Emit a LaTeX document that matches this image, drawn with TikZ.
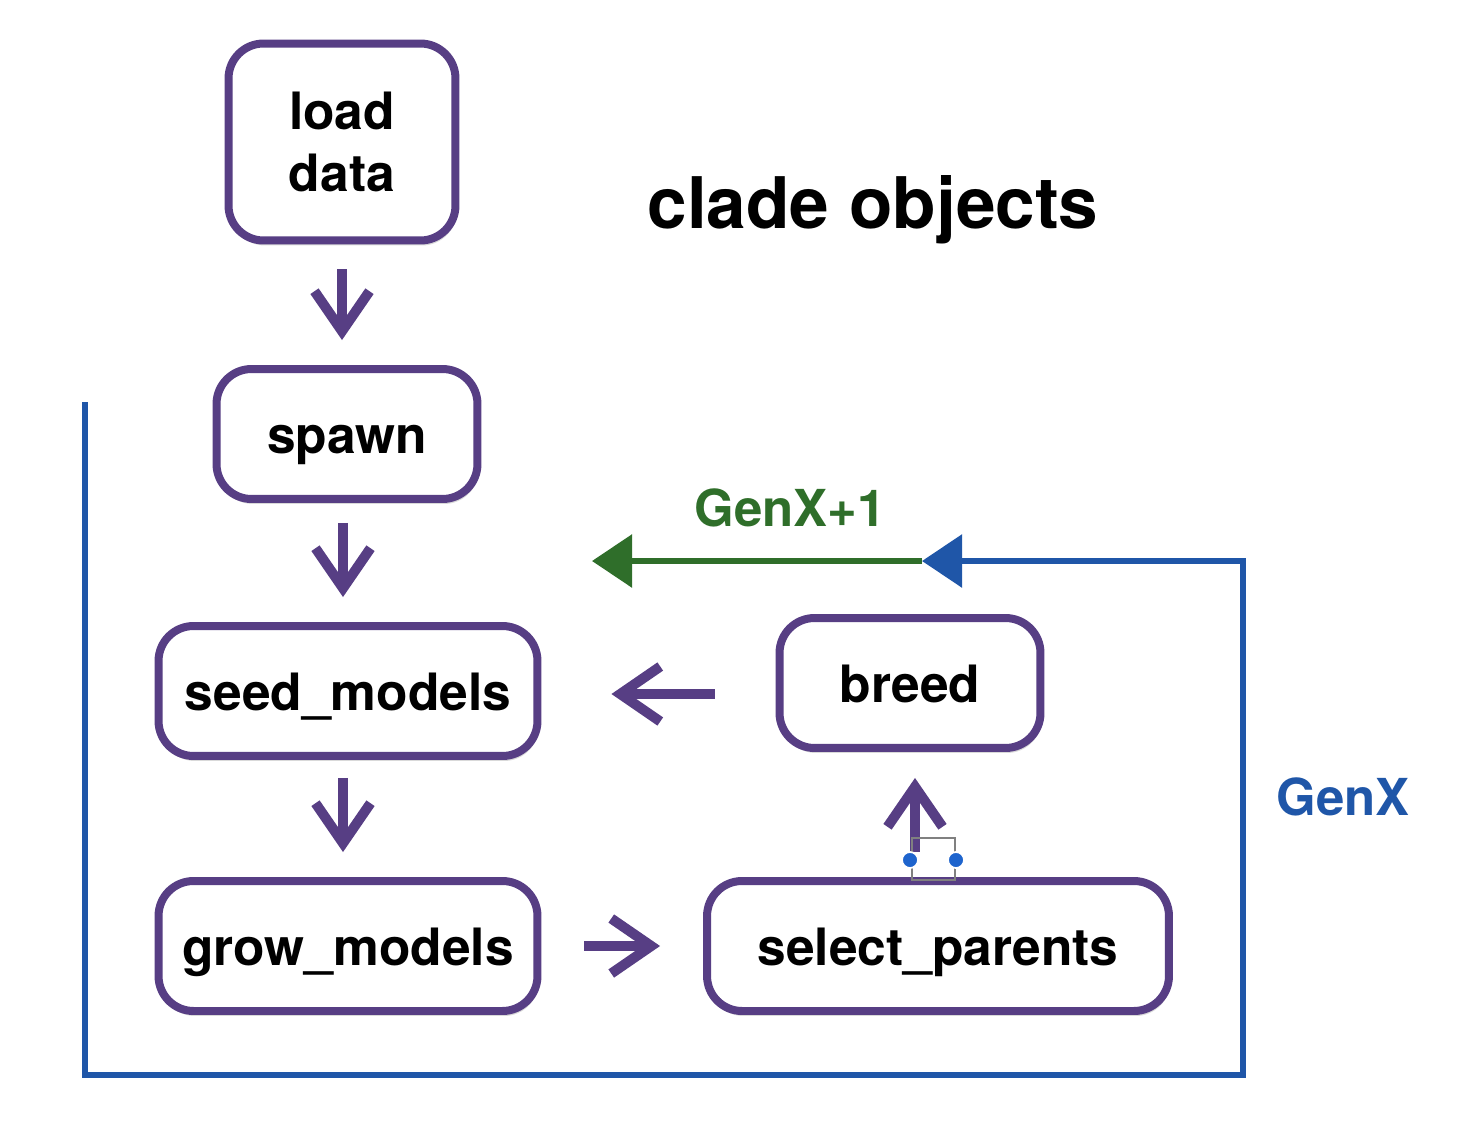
\documentclass[tikz,border=0pt]{standalone}
\usepackage{fontspec}
\setmainfont{TeX Gyre Heros}
\usetikzlibrary{arrows.meta, shadows, calc}
\definecolor{boxpurple}{RGB}{87,62,132}
\definecolor{genblue}{RGB}{31,86,168}
\definecolor{gengreen}{RGB}{47,110,42}
\definecolor{dotblue}{RGB}{30,100,205}

\tikzset{
  stagebox/.style={draw=boxpurple, line width=0.16cm, rounded corners=0.7cm, fill=white,
    minimum height=2.6cm, align=center, font=\bfseries\fontsize{29.3}{35}\selectfont,
    drop shadow={opacity=0.3, shadow xshift=0.03cm, shadow yshift=-0.1cm}},
  oneline/.style={text height=22pt, text depth=0pt},
  steparrow/.style={draw=boxpurple, line width=0.2cm, -{Straight Barb[length=0.8cm,width=1.1cm]}},
  looplabel/.style={font=\bfseries\fontsize{29}{35}\selectfont},
  looparrow/.style={line width=0.12cm, -{Triangle[length=0.8cm,width=1.04cm]}},
}

\begin{document}
\begin{tikzpicture}[x=0.02cm, y=-0.02cm]
        \useasboundingbox (0,0) rectangle (1460,1132);

        \coordinate (loopstart) at (85,402);
        \coordinate (loopcorner) at (1243,1075);
        \coordinate (loopend) at (922,561);
        \coordinate (nextstart) at (592,561);

        \draw[looparrow, gengreen] (loopend) -- (nextstart);
        \draw[looparrow, genblue] (loopstart) |- (loopcorner) |- (loopend);

        \node[stagebox, minimum width=4.54cm, minimum height=3.94cm] (load) at (342,142) {load\\data};
        \node[stagebox, oneline, minimum width=5.22cm] (spawn) at (347,434) {spawn};
        \node[stagebox, oneline, minimum width=7.58cm] (seed) at (348,691) {seed\_models};
        \node[stagebox, oneline, minimum width=7.58cm] (grow) at (348,946) {grow\_models};
        \node[stagebox, oneline, minimum width=5.22cm] (breed) at (910,683) {breed};
        \node[stagebox, oneline, minimum width=9.24cm] (select) at (938,946) {select\_parents};

        \node[font=\bfseries\fontsize{40.5}{48}\selectfont] (title) at (873,210) {clade objects};
        \node[looplabel, text=gengreen] (nextgen) at (790,508) {GenX+1};
        \node[looplabel, text=genblue] (thisgen) at (1343,797) {GenX};

        \draw[steparrow, shorten <=0.5cm, shorten >=0.5cm] (load.south) -- (load.south |- spawn.north);
        \draw[steparrow, shorten <=0.4cm, shorten >=0.5cm] ($(spawn.south)+(-4,0)$) -- ($(spawn.south |- seed.north)+(-4,0)$);
        \draw[steparrow, shorten <=0.36cm, shorten >=0.5cm] ($(seed.south)+(-5,0)$) -- ($(seed.south |- grow.north)+(-5,0)$);
        \draw[steparrow, shorten <=0.86cm, shorten >=0.86cm] (grow.east) -- (grow.east -| select.west);
        \draw[steparrow, shorten <=1.22cm, shorten >=1.4cm] ($(breed.west)+(0,11)$) -- ($(breed.west -| seed.east)+(0,11)$);
        \draw[steparrow, shorten <=0.5cm, shorten >=0.52cm] ($(select.north)+(-23,0)$) -- ($(breed.south)+(5,0)$);

        \draw[gray, line width=0.6pt] (912,838) rectangle (955,880);
        \filldraw[dotblue, draw=white, line width=1pt] (910,860) circle (0.16cm);
        \filldraw[dotblue, draw=white, line width=1pt] (956,860) circle (0.16cm);

    \end{tikzpicture}
\end{document}
